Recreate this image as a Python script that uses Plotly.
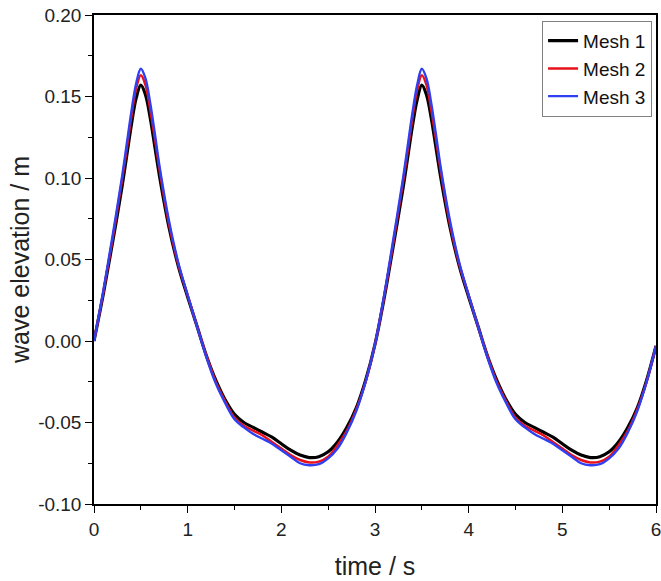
"""Wave elevation time history for three mesh resolutions."""

import plotly.graph_objects as go

time_s = [
    0.0, 0.1, 0.2, 0.3, 0.35, 0.4, 0.45, 0.5, 0.55, 0.6, 0.65, 0.7, 0.8, 0.9,
    1.0, 1.1, 1.2, 1.3, 1.4, 1.5, 1.6, 1.7, 1.8, 1.9, 2.0, 2.1, 2.2, 2.3, 2.4,
    2.5, 2.6, 2.7, 2.8, 2.9,
    3.0, 3.1, 3.2, 3.3, 3.35, 3.4, 3.45, 3.5, 3.55, 3.6, 3.65, 3.7, 3.8, 3.9,
    4.0, 4.1, 4.2, 4.3, 4.4, 4.5, 4.6, 4.7, 4.8, 4.9, 5.0, 5.1, 5.2, 5.3, 5.4,
    5.5, 5.6, 5.7, 5.8, 5.9, 6.0,
]

mesh_1 = [
    0.000, 0.029, 0.061, 0.095, 0.114, 0.133, 0.149, 0.157, 0.151, 0.137,
    0.119, 0.101, 0.070, 0.046, 0.027, 0.009, -0.009, -0.024, -0.036, -0.045,
    -0.050, -0.053, -0.056, -0.059, -0.063, -0.067, -0.070, -0.0715, -0.071,
    -0.068, -0.062, -0.053, -0.041, -0.024,
    -0.002, 0.027, 0.060, 0.094, 0.113, 0.132, 0.148, 0.157, 0.151, 0.137,
    0.119, 0.101, 0.070, 0.046, 0.027, 0.009, -0.009, -0.024, -0.036, -0.045,
    -0.050, -0.053, -0.056, -0.059, -0.063, -0.067, -0.070, -0.0715, -0.071,
    -0.068, -0.062, -0.053, -0.041, -0.024, -0.003,
]

mesh_2 = [
    0.000, 0.030, 0.063, 0.099, 0.118, 0.138, 0.155, 0.163, 0.157, 0.142,
    0.124, 0.105, 0.072, 0.047, 0.028, 0.009, -0.009, -0.025, -0.037, -0.047,
    -0.052, -0.055, -0.058, -0.062, -0.066, -0.070, -0.073, -0.0745, -0.074,
    -0.071, -0.064, -0.055, -0.042, -0.025,
    -0.002, 0.028, 0.062, 0.098, 0.117, 0.137, 0.154, 0.163, 0.157, 0.142,
    0.124, 0.105, 0.072, 0.047, 0.028, 0.009, -0.009, -0.025, -0.037, -0.047,
    -0.052, -0.055, -0.058, -0.062, -0.066, -0.070, -0.073, -0.0745, -0.074,
    -0.071, -0.064, -0.055, -0.042, -0.025, -0.003,
]

mesh_3 = [
    0.000, 0.031, 0.065, 0.101, 0.121, 0.141, 0.158, 0.167, 0.161, 0.146,
    0.127, 0.107, 0.074, 0.048, 0.028, 0.009, -0.010, -0.026, -0.038, -0.048,
    -0.053, -0.057, -0.060, -0.063, -0.067, -0.071, -0.075, -0.0762, -0.0756,
    -0.072, -0.066, -0.056, -0.043, -0.025,
    -0.002, 0.029, 0.064, 0.100, 0.120, 0.140, 0.157, 0.167, 0.161, 0.146,
    0.127, 0.107, 0.074, 0.048, 0.028, 0.009, -0.010, -0.026, -0.038, -0.048,
    -0.053, -0.057, -0.060, -0.063, -0.067, -0.071, -0.075, -0.0762, -0.0756,
    -0.072, -0.066, -0.056, -0.043, -0.025, -0.003,
]

x_ticks = [0, 1, 2, 3, 4, 5, 6]
y_ticks = [-0.10, -0.05, 0.00, 0.05, 0.10, 0.15, 0.20]

series = [
    ("Mesh 1", mesh_1, "#000000", 3.2),
    ("Mesh 2", mesh_2, "#e8101a", 2.5),
    ("Mesh 3", mesh_3, "#2f3ff2", 2.4),
]

FONT = "Arial, Liberation Sans, sans-serif"

fig = go.Figure()
for name, values, color, width in series:
    fig.add_trace(
        go.Scatter(
            x=time_s,
            y=values,
            mode="lines",
            name=name,
            line=dict(color=color, width=width, shape="spline", smoothing=1.0),
        )
    )

axis_common = dict(
    showgrid=False,
    zeroline=False,
    showline=True,
    linecolor="black",
    linewidth=1.5,
    mirror=True,
    ticks="outside",
    ticklen=7,
    tickwidth=1.3,
    tickcolor="black",
    automargin=False,
    ticklabeloverflow="allow",
    tickfont=dict(family=FONT, size=19, color="#222"),
)

fig.update_xaxes(
    range=[0, 6],
    tickvals=x_ticks,
    ticktext=[str(v) for v in x_ticks],
    minor=dict(ticks="outside", ticklen=4, tickwidth=1.2, tickcolor="black", dtick=0.5),
    title=dict(text="time / s", font=dict(family=FONT, size=25, color="#222"), standoff=19),
    **axis_common,
)
fig.update_yaxes(
    range=[-0.10, 0.20],
    tickvals=y_ticks,
    ticktext=[f"{v:.2f}" for v in y_ticks],
    minor=dict(ticks="outside", ticklen=4, tickwidth=1.2, tickcolor="black", dtick=0.025),
    title=dict(text="wave elevation / m", font=dict(family=FONT, size=25, color="#222"), standoff=1),
    **axis_common,
)

fig.update_layout(
    width=661,
    height=581,
    autosize=False,
    margin=dict(l=94, r=5, t=15, b=77),
    plot_bgcolor="white",
    paper_bgcolor="white",
    showlegend=True,
    legend=dict(
        x=0.993,
        y=0.988,
        xanchor="right",
        yanchor="top",
        bgcolor="white",
        bordercolor="#808080",
        borderwidth=1,
        font=dict(family=FONT, size=19, color="#111"),
        tracegroupgap=0,
    ),
)

# drop the default body margin so the figure fills the window exactly
fig.write_html(
    "out.html",
    config={"displayModeBar": False},
    post_script="document.body.style.margin = '0';",
)
